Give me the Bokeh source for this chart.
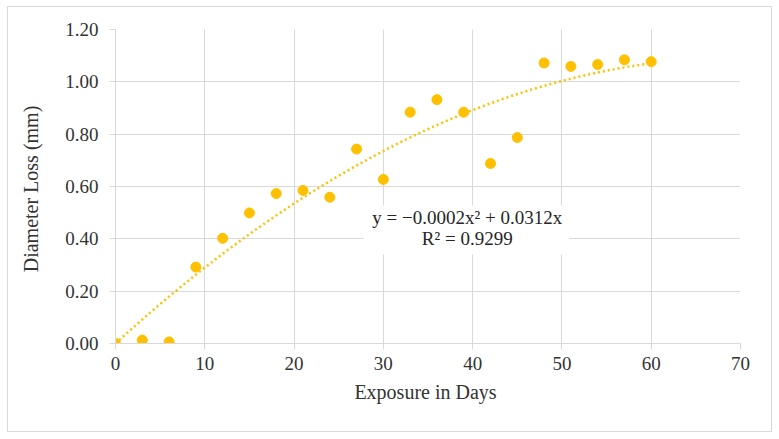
import numpy as np
from bokeh.plotting import figure
from bokeh.models import ColumnDataSource, NumeralTickFormatter, FixedTicker, Label, BoxAnnotation, Range1d
from bokeh.embed import file_html
from bokeh.resources import INLINE

# Data
days = [0, 3, 6, 9, 12, 15, 18, 21, 24, 27, 30, 33, 36, 39, 42, 45, 48, 51, 54, 57, 60]
loss = [0.00, 0.013, 0.006, 0.292, 0.402, 0.499, 0.573, 0.585, 0.559, 0.743, 0.627,
        0.884, 0.932, 0.884, 0.688, 0.787, 1.072, 1.059, 1.066, 1.084, 1.077]
x_ticks = [0, 10, 20, 30, 40, 50, 60, 70]
y_ticks = [0.0, 0.2, 0.4, 0.6, 0.8, 1.0, 1.2]
eq_text = "y = \u22120.0002x\u00b2 + 0.0312x"
r2_text = "R\u00b2 = 0.9299"

# Polynomial trend (order 2, intercept 0), fitted by least squares
xa = np.array(days, dtype=float)
ya = np.array(loss, dtype=float)
A = np.column_stack([xa ** 2, xa])
coef, *_ = np.linalg.lstsq(A, ya, rcond=None)
xt = np.linspace(0, 60, 121)
yt = coef[0] * xt ** 2 + coef[1] * xt

FONT = "Liberation Serif"
ORANGE = "#FFC000"
GRID = "#d9d9d9"
TXT = "#333333"

p = figure(width=765, height=426, output_backend="svg", toolbar_location=None,
           x_range=Range1d(0, 70), y_range=Range1d(0, 1.2),
           min_border_left=107, min_border_right=33, min_border_top=22, min_border_bottom=90)
p.margin = (6, 7, 7, 7)
p.styles = {"border": "1px solid #d9d9d9"}
p.outline_line_color = None
p.background_fill_color = "white"
p.border_fill_color = "white"

p.xgrid.grid_line_color = GRID
p.ygrid.grid_line_color = GRID
p.xaxis.ticker = FixedTicker(ticks=x_ticks)
p.yaxis.ticker = FixedTicker(ticks=y_ticks)
p.yaxis.formatter = NumeralTickFormatter(format="0.00")

for ax in (p.xaxis, p.yaxis):
    ax.axis_line_color = GRID
    ax.major_tick_line_color = GRID
    ax.major_tick_out = 6
    ax.major_tick_in = 0
    ax.minor_tick_line_color = None
    ax.major_label_text_font = FONT
    ax.major_label_text_font_size = "19px"
    ax.major_label_text_color = TXT
    ax.axis_label_text_font = FONT
    ax.axis_label_text_font_size = "20px"
    ax.axis_label_text_font_style = "normal"
    ax.axis_label_text_color = TXT

p.xaxis.axis_label = "Exposure  in Days"
p.yaxis.axis_label = "Diameter  Loss (mm)"
p.xaxis.major_label_standoff = 7
p.yaxis.major_label_standoff = 11
p.xaxis.axis_label_standoff = 8
p.yaxis.axis_label_standoff = 20

p.line(xt, yt, line_color=ORANGE, line_width=2.5, line_dash="2 3")
src = ColumnDataSource(dict(x=days, y=loss))
p.scatter("x", "y", source=src, size=10, fill_color=ORANGE, line_color=ORANGE)

box = BoxAnnotation(left=27.8, right=50.8, bottom=0.34, top=0.527,
                    fill_color="white", fill_alpha=1.0, line_color=None)
p.add_layout(box)
p.add_layout(Label(x=39.4, y=0.481, text=eq_text, text_align="center", text_baseline="middle",
                   text_font=FONT, text_font_size="19px", text_color="#262626"))
p.add_layout(Label(x=39.4, y=0.400, text=r2_text, text_align="center", text_baseline="middle",
                   text_font=FONT, text_font_size="19px", text_color="#262626"))

open("out.html", "w").write(file_html(p, INLINE))
